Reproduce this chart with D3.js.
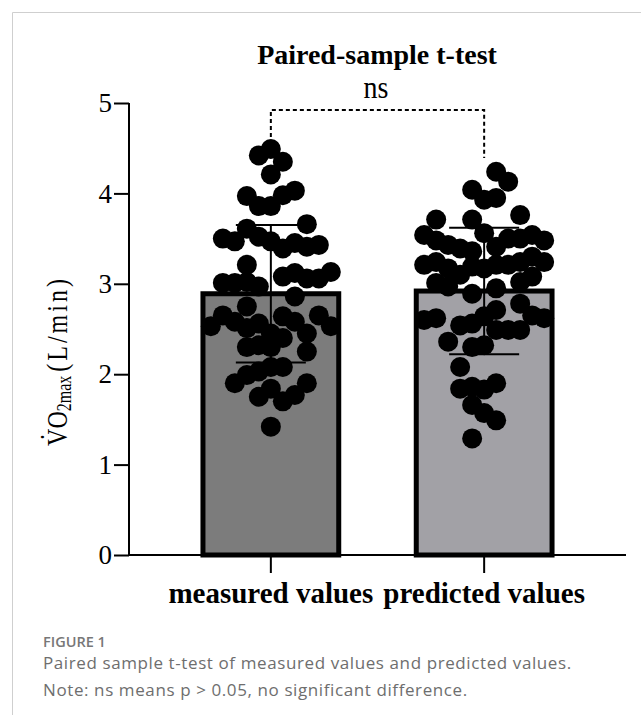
<!DOCTYPE html>
<html>
<head>
<meta charset="utf-8">
<script src="https://cdn.jsdelivr.net/npm/d3@7"></script>
<style>
  body { margin: 0; background: #fff; }
  svg { display: block; }
</style>
</head>
<body>
<svg width="641" height="715"></svg>
<script>
const svg = d3.select('svg');
const width = 641;
const height = 715;

// data
const categories = ["measured values", "predicted values"];
const means = [2.89, 2.92];
const sds = [0.76, 0.70];
const yTicks = [0, 1, 2, 3, 4, 5];

const measuredValues = [4.42,4.49,4.35,4.21,3.97,3.86,3.86,3.98,4.03,3.66,3.61,3.50,3.47,3.52,3.47,3.39,3.45,3.41,3.43,3.21,
  3.01,3.01,3.02,2.97,3.08,3.12,3.06,3.06,3.13,2.75,2.65,2.53,2.58,2.51,2.56,2.45,2.64,2.58,2.45,2.65,
  2.53,2.86,2.30,2.32,2.30,2.40,2.25,2.08,2.03,2.08,1.99,1.90,1.90,1.84,1.75,1.70,1.77,1.42];
const measuredSlots = [-1,0,1,0,-2,-1,0,1,2,3,-2,-4,-3,-1,0,1,2,3,4,-2,
  -4,-3,-2,-1,1,2,3,4,5,-2,-4,-5,-3,-2,-1,0,1,2,3,4,
  5,2,-2,-1,0,1,3,0,-1,1,-2,-3,3,0,-1,1,2,0];

const predictedValues = [4.24,4.13,4.04,3.93,3.95,3.76,3.71,3.71,3.54,3.48,3.43,3.39,3.36,3.56,3.41,3.50,3.50,3.54,3.48,3.21,
  3.24,3.17,3.10,3.19,3.17,3.21,3.21,3.24,3.30,3.24,3.01,2.97,3.02,3.08,2.95,2.89,2.78,2.60,2.62,2.54,
  2.56,2.64,2.71,2.49,2.49,2.49,2.65,2.62,2.36,2.30,2.32,2.08,1.84,1.86,1.83,1.90,1.66,1.57,1.49,1.29];
const predictedSlots = [1,2,-1,0,1,3,-4,-1,-5,-4,-3,-2,-1,0,1,2,3,4,5,-5,
  -4,-3,-2,-1,0,1,2,3,4,5,-4,-3,3,4,1,-1,3,-5,-4,-2,
  -1,0,1,1,2,3,4,5,-3,-1,0,-2,-2,-1,0,1,-1,0,1,-1];

const barColors = ["#7c7c7c", "#a2a1a6"];

const points = [];
measuredValues.forEach((v, i) => points.push({cat: categories[0], value: v, slot: measuredSlots[i]}));
predictedValues.forEach((v, i) => points.push({cat: categories[1], value: v, slot: predictedSlots[i]}));

const serif = "'Liberation Serif', 'Times New Roman', serif";
const sans = "'Open Sans', 'Noto Sans', sans-serif";

// frame
svg.append("path")
  .attr("d", `M12.5,${height} V12.5 H${width}`)
  .attr("fill", "none")
  .attr("stroke", "#cfcfcf")
  .attr("stroke-width", 1);

const x = d3.scaleBand()
  .domain(categories)
  .range([129, 626])
  .paddingInner(0.34)
  .paddingOuter(0.335);

const y = d3.scaleLinear()
  .domain([0, 5])
  .range([555, 103]);

const slot = d3.scaleLinear().domain([0, 1]).range([0, 12]);
const cx = (c) => x(c) + x.bandwidth() / 2;

const barStroke = 5;

// bars
svg.append("g")
  .selectAll("rect")
  .data(categories)
  .enter()
  .append("rect")
  .attr("x", d => x(d) + barStroke / 2)
  .attr("y", (d, i) => y(means[i]))
  .attr("width", x.bandwidth() - barStroke)
  .attr("height", (d, i) => y(0) - y(means[i]))
  .attr("fill", (d, i) => barColors[i])
  .attr("stroke", "#000")
  .attr("stroke-width", barStroke);

// error bars (mean +/- SD)
const err = svg.append("g")
  .attr("stroke", "#000")
  .attr("stroke-width", 2);
categories.forEach((c, i) => {
  const xc = cx(c);
  const hi = y(means[i] + sds[i]);
  const lo = y(means[i] - sds[i]);
  err.append("line").attr("x1", xc).attr("x2", xc).attr("y1", hi).attr("y2", lo);
  err.append("line").attr("x1", xc - 35).attr("x2", xc + 35).attr("y1", hi).attr("y2", hi);
  err.append("line").attr("x1", xc - 35).attr("x2", xc + 35).attr("y1", lo).attr("y2", lo);
});

// significance bracket
svg.append("path")
  .attr("d", `M${cx(categories[0])},158 V110 H${cx(categories[1])} V158`)
  .attr("fill", "none")
  .attr("stroke", "#000")
  .attr("stroke-width", 2)
  .attr("stroke-dasharray", "4,3");

// individual points
svg.append("g")
  .selectAll("circle")
  .data(points)
  .enter()
  .append("circle")
  .attr("cx", d => cx(d.cat) + slot(d.slot))
  .attr("cy", d => y(d.value))
  .attr("r", 10)
  .attr("fill", "#000");

// axes
const yAxis = svg.append("g")
  .attr("transform", "translate(129,0)")
  .call(d3.axisLeft(y).tickValues(yTicks).tickFormat(d3.format("d")).tickSize(15).tickPadding(2));
yAxis.select(".domain").attr("stroke-width", 2).attr("d", "M0,555V103");
yAxis.selectAll(".tick line").attr("stroke-width", 2);
yAxis.selectAll(".tick text")
  .attr("font-family", serif)
  .attr("font-size", 27)
  .attr("fill", "#000");

const xAxis = svg.append("g")
  .attr("transform", "translate(0,555)")
  .call(d3.axisBottom(x).tickSize(18).tickFormat(""));
xAxis.select(".domain").attr("stroke-width", 2).attr("d", "M129,0H626");
xAxis.selectAll(".tick line").attr("stroke-width", 2);

svg.append("g")
  .selectAll("text")
  .data(categories)
  .enter()
  .append("text")
  .attr("x", d => cx(d))
  .attr("y", 603)
  .attr("text-anchor", "middle")
  .attr("font-family", serif)
  .attr("font-weight", "bold")
  .attr("font-size", 29)
  .text(d => d);

// y label
const yLabel = svg.append("text")
  .attr("transform", "translate(67,361) rotate(-90) scale(1,1.25)")
  .attr("text-anchor", "middle")
  .attr("font-family", serif)
  .attr("font-size", 24)
  .attr("fill", "#000");
yLabel.append("tspan").text("V\u0307O");
yLabel.append("tspan").attr("font-size", 16).attr("dy", 3).text("2max");
yLabel.append("tspan").attr("dy", -3).attr("dx", 4).attr("letter-spacing", 3).text("(L/min)");

// title
svg.append("text")
  .attr("x", 377)
  .attr("y", 64)
  .attr("text-anchor", "middle")
  .attr("font-family", serif)
  .attr("font-weight", "bold")
  .attr("font-size", 28)
  .text("Paired-sample t-test");

svg.append("text")
  .attr("transform", "translate(376,98) scale(1,1.15)")
  .attr("text-anchor", "middle")
  .attr("font-family", serif)
  .attr("font-size", 28)
  .text("ns");

// caption
svg.append("text")
  .attr("x", 43)
  .attr("y", 647)
  .attr("font-family", sans)
  .attr("font-weight", 600)
  .attr("font-size", 14.5)
  .attr("fill", "#777")
  .text("FIGURE 1");

const captionLines = [
  "Paired sample t-test of measured values and predicted values.",
  "Note: ns means p > 0.05, no significant difference."
];
svg.append("g")
  .selectAll("text")
  .data(captionLines)
  .enter()
  .append("text")
  .attr("x", 43)
  .attr("y", (d, i) => 669 + i * 27)
  .attr("font-family", sans)
  .attr("font-size", 17)
  .attr("letter-spacing", 0.6)
  .attr("fill", "#6e6e6e")
  .text(d => d);
</script>
</body>
</html>
